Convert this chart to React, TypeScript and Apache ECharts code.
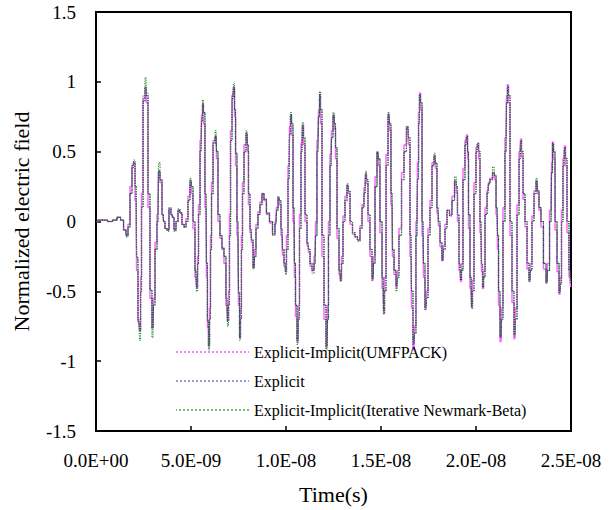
import React, { useEffect, useRef } from "react";
import * as echarts from "echarts";

// time in ns
const timeNs = [
  0, 0.21, 0.47, 0.74, 1.0, 1.21, 1.37, 1.53, 1.63, 1.74,
  1.84, 1.95, 2.0, 2.11, 2.16, 2.26, 2.32, 2.37, 2.42, 2.53,
  2.63, 2.68, 2.79, 2.89, 3.0, 3.05, 3.16, 3.26, 3.32, 3.42,
  3.53, 3.58, 3.68, 3.79, 3.89, 4.0, 4.05, 4.16, 4.26, 4.37,
  4.47, 4.58, 4.68, 4.79, 4.89, 5.0, 5.05, 5.16, 5.26, 5.32,
  5.37, 5.42, 5.53, 5.58, 5.63, 5.68, 5.79, 5.84, 5.89, 5.95,
  6.0, 6.05, 6.11, 6.21, 6.32, 6.37, 6.47, 6.58, 6.68, 6.79,
  6.89, 6.95, 7.0, 7.05, 7.11, 7.21, 7.26, 7.32, 7.37, 7.47,
  7.53, 7.58, 7.63, 7.68, 7.74, 7.84, 7.95, 8.0, 8.05, 8.16,
  8.21, 8.32, 8.37, 8.47, 8.58, 8.68, 8.79, 8.89, 9.05, 9.21,
  9.37, 9.47, 9.53, 9.63, 9.68, 9.79, 9.84, 9.95, 10.0, 10.05,
  10.16, 10.21, 10.26, 10.32, 10.42, 10.47, 10.53, 10.63, 10.68, 10.74,
  10.84, 10.89, 10.95, 11.05, 11.16, 11.21, 11.32, 11.42, 11.53, 11.58,
  11.68, 11.74, 11.79, 11.84, 11.95, 12.05, 12.16, 12.21, 12.26, 12.37,
  12.42, 12.53, 12.58, 12.63, 12.74, 12.84, 12.89, 12.95, 13.05, 13.16,
  13.26, 13.32, 13.42, 13.58, 13.68, 13.84, 13.95, 14.05, 14.16, 14.21,
  14.26, 14.37, 14.47, 14.58, 14.63, 14.74, 14.84, 14.89, 15.0, 15.11,
  15.16, 15.21, 15.32, 15.42, 15.47, 15.58, 15.63, 15.74, 15.84, 15.89,
  16.0, 16.16, 16.26, 16.42, 16.47, 16.58, 16.63, 16.74, 16.79, 16.89,
  16.95, 17.0, 17.05, 17.11, 17.21, 17.26, 17.37, 17.42, 17.53, 17.63,
  17.74, 17.84, 17.89, 18.0, 18.05, 18.16, 18.26, 18.32, 18.42, 18.53,
  18.68, 18.79, 18.95, 19.0, 19.05, 19.16, 19.21, 19.26, 19.37, 19.47,
  19.53, 19.58, 19.63, 19.74, 19.79, 19.84, 19.95, 20.05, 20.11, 20.16,
  20.26, 20.32, 20.37, 20.42, 20.53, 20.63, 20.68, 20.79, 20.95, 21.0,
  21.11, 21.16, 21.21, 21.32, 21.37, 21.47, 21.58, 21.63, 21.68, 21.74,
  21.84, 21.95, 22.05, 22.11, 22.21, 22.32, 22.37, 22.42, 22.53, 22.63,
  22.74, 22.84, 22.89, 23.0, 23.11, 23.21, 23.26, 23.37, 23.47, 23.63,
  23.74, 23.79, 23.95, 24.0, 24.05, 24.11, 24.21, 24.32, 24.42, 24.47,
  24.53, 24.63, 24.68, 24.74, 24.84, 24.95, 25.0,
];

const explicitVals = [
  0.0, 0.01, 0.01, 0.0, 0.01, 0.03, 0.01, -0.06, -0.1, -0.04,
  0.2, 0.38, 0.42, 0.25, -0.26, -0.7, -0.78, -0.5, 0.1, 0.86,
  0.96, 0.9, 0.2, -0.49, -0.76, -0.6, -0.2, 0.0, 0.36, 0.3,
  0.05, 0.0, -0.05, -0.06, 0.09, 0.05, 0.03, -0.06, 0.0, 0.08,
  0.06, -0.02, -0.04, 0.0, 0.15, 0.29, 0.25, 0.0, -0.35, -0.47,
  -0.3, 0.05, 0.5, 0.72, 0.84, 0.78, 0.2, -0.3, -0.71, -0.89,
  -0.7, -0.2, 0.2, 0.56, 0.61, 0.5, 0.05, -0.1, -0.19, -0.25,
  -0.55, -0.71, -0.6, -0.1, 0.58, 0.88, 0.96, 0.8, 0.49, 0.0,
  -0.51, -0.83, -0.7, -0.2, 0.2, 0.5, 0.63, 0.55, 0.2, -0.05,
  -0.13, -0.33, -0.25, -0.05, 0.05, 0.12, 0.2, 0.16, 0.06, 0.0,
  -0.09, -0.02, 0.08, 0.17, 0.15, -0.05, -0.2, -0.3, -0.36, -0.2,
  0.3, 0.62, 0.76, 0.7, 0.1, -0.3, -0.6, -0.85, -0.7, -0.05,
  0.5, 0.69, 0.6, 0.05, -0.15, -0.2, -0.3, -0.35, -0.3, -0.1,
  0.5, 0.75, 0.91, 0.8, -0.1, -0.6, -0.89, -0.7, -0.1, 0.4,
  0.6, 0.76, 0.7, 0.53, -0.05, -0.35, -0.42, -0.3, 0.0, 0.15,
  0.26, 0.22, 0.0, -0.08, -0.11, -0.14, -0.05, 0.1, 0.2, 0.34,
  0.3, 0.05, -0.2, -0.4, -0.3, 0.25, 0.49, 0.45, 0.0, -0.4,
  -0.64, -0.5, 0.4, 0.76, 0.7, 0.2, -0.2, -0.35, -0.46, -0.4,
  -0.1, 0.3, 0.5, 0.67, 0.6, -0.1, -0.5, -0.88, -0.8, -0.1,
  0.3, 0.7, 0.91, 0.85, 0.0, -0.3, -0.61, -0.55, -0.1, 0.1,
  0.4, 0.47, 0.42, 0.1, 0.0, -0.15, -0.28, -0.2, -0.05, 0.08,
  0.04, 0.15, 0.29, 0.25, 0.05, -0.3, -0.42, -0.35, 0.3, 0.55,
  0.61, 0.5, 0.05, -0.4, -0.6, -0.5, 0.2, 0.5, 0.56, 0.5,
  0.0, -0.3, -0.47, -0.4, 0.05, 0.2, 0.27, 0.3, 0.35, 0.33,
  0.1, -0.1, -0.5, -0.83, -0.7, 0.0, 0.5, 0.85, 0.97, 0.9,
  0.0, -0.5, -0.81, -0.7, 0.05, 0.45, 0.58, 0.5, 0.2, 0.0,
  -0.3, -0.42, -0.35, 0.0, 0.2, 0.29, 0.22, 0.1, 0.0, -0.3,
  -0.43, -0.35, 0.0, 0.35, 0.56, 0.5, 0.0, -0.3, -0.51, -0.45,
  0.0, 0.4, 0.53, 0.45, 0.0, -0.35, -0.45,
];

const umfpackVals = [
  0.0, 0.01, 0.01, 0.0, 0.01, 0.03, 0.01, -0.06, -0.1, -0.02,
  0.25, 0.4, 0.42, 0.15, -0.35, -0.72, -0.78, -0.4, 0.2, 0.88,
  0.96, 0.85, 0.1, -0.55, -0.76, -0.55, -0.15, 0.05, 0.36, 0.28,
  0.05, 0.0, -0.05, -0.06, 0.09, 0.05, 0.03, -0.06, 0.0, 0.08,
  0.06, -0.02, -0.04, 0.02, 0.18, 0.29, 0.2, -0.05, -0.4, -0.47,
  -0.25, 0.12, 0.58, 0.76, 0.84, 0.7, 0.1, -0.4, -0.76, -0.89,
  -0.62, -0.1, 0.28, 0.58, 0.61, 0.45, 0.0, -0.12, -0.19, -0.3,
  -0.6, -0.71, -0.5, 0.05, 0.65, 0.9, 0.96, 0.75, 0.4, -0.1,
  -0.6, -0.83, -0.62, -0.1, 0.28, 0.55, 0.63, 0.5, 0.12, -0.08,
  -0.15, -0.33, -0.2, -0.02, 0.07, 0.14, 0.2, 0.15, 0.05, -0.01,
  -0.09, 0.0, 0.1, 0.17, 0.12, -0.1, -0.24, -0.32, -0.36, -0.1,
  0.4, 0.68, 0.76, 0.62, 0.0, -0.4, -0.68, -0.86, -0.6, 0.05,
  0.56, 0.69, 0.55, 0.0, -0.17, -0.22, -0.32, -0.35, -0.25, 0.0,
  0.58, 0.8, 0.91, 0.7, -0.25, -0.7, -0.9, -0.6, 0.0, 0.48,
  0.65, 0.76, 0.66, 0.45, -0.12, -0.38, -0.42, -0.25, 0.04, 0.18,
  0.26, 0.2, -0.02, -0.09, -0.11, -0.13, -0.03, 0.12, 0.24, 0.34,
  0.27, 0.0, -0.25, -0.42, -0.25, 0.32, 0.5, 0.4, -0.08, -0.48,
  -0.66, -0.4, 0.48, 0.77, 0.65, 0.12, -0.25, -0.38, -0.47, -0.35,
  -0.05, 0.35, 0.55, 0.68, 0.55, -0.25, -0.62, -0.92, -0.75, 0.0,
  0.42, 0.78, 0.92, 0.8, -0.1, -0.4, -0.63, -0.5, -0.05, 0.15,
  0.42, 0.47, 0.38, 0.06, -0.03, -0.18, -0.28, -0.17, -0.02, 0.08,
  0.05, 0.18, 0.29, 0.2, 0.0, -0.35, -0.43, -0.3, 0.38, 0.58,
  0.62, 0.45, -0.05, -0.48, -0.62, -0.42, 0.28, 0.53, 0.56, 0.45,
  -0.08, -0.36, -0.48, -0.35, 0.1, 0.22, 0.28, 0.31, 0.35, 0.3,
  0.05, -0.2, -0.6, -0.86, -0.62, 0.1, 0.6, 0.9, 0.98, 0.85,
  -0.1, -0.58, -0.84, -0.62, 0.12, 0.5, 0.59, 0.46, 0.16, -0.04,
  -0.34, -0.43, -0.3, 0.04, 0.22, 0.29, 0.2, 0.08, -0.04, -0.34,
  -0.44, -0.3, 0.08, 0.42, 0.57, 0.45, -0.06, -0.36, -0.52, -0.4,
  0.08, 0.45, 0.54, 0.4, -0.08, -0.4, -0.47,
];

const newmarkVals = [
  0.0, 0.01, 0.01, 0.0, 0.01, 0.03, 0.01, -0.06, -0.11, -0.04,
  0.2, 0.4, 0.44, 0.25, -0.26, -0.72, -0.85, -0.5, 0.1, 0.9,
  1.03, 0.92, 0.2, -0.49, -0.83, -0.6, -0.2, 0.0, 0.42, 0.3,
  0.05, 0.0, -0.05, -0.07, 0.1, 0.05, 0.03, -0.07, 0.0, 0.09,
  0.06, -0.02, -0.04, 0.0, 0.15, 0.31, 0.25, 0.0, -0.35, -0.5,
  -0.3, 0.05, 0.5, 0.74, 0.87, 0.78, 0.2, -0.3, -0.72, -0.92,
  -0.7, -0.2, 0.2, 0.56, 0.65, 0.5, 0.05, -0.1, -0.2, -0.25,
  -0.55, -0.75, -0.6, -0.1, 0.58, 0.9, 0.99, 0.8, 0.49, 0.0,
  -0.51, -0.85, -0.7, -0.2, 0.2, 0.5, 0.65, 0.55, 0.2, -0.05,
  -0.13, -0.34, -0.25, -0.05, 0.05, 0.12, 0.2, 0.16, 0.06, 0.0,
  -0.1, -0.02, 0.08, 0.18, 0.15, -0.05, -0.2, -0.3, -0.38, -0.2,
  0.3, 0.62, 0.78, 0.7, 0.1, -0.3, -0.6, -0.88, -0.7, -0.05,
  0.5, 0.71, 0.6, 0.05, -0.15, -0.2, -0.3, -0.37, -0.3, -0.1,
  0.5, 0.75, 0.93, 0.8, -0.1, -0.6, -0.92, -0.7, -0.1, 0.4,
  0.6, 0.78, 0.7, 0.53, -0.05, -0.35, -0.43, -0.3, 0.0, 0.15,
  0.27, 0.22, 0.0, -0.08, -0.11, -0.13, -0.05, 0.1, 0.2, 0.36,
  0.3, 0.05, -0.2, -0.42, -0.3, 0.25, 0.5, 0.45, 0.0, -0.4,
  -0.66, -0.5, 0.4, 0.78, 0.7, 0.2, -0.2, -0.35, -0.5, -0.4,
  -0.1, 0.3, 0.5, 0.68, 0.6, -0.1, -0.5, -0.86, -0.8, -0.1,
  0.3, 0.7, 0.9, 0.85, 0.0, -0.3, -0.63, -0.55, -0.1, 0.1,
  0.4, 0.49, 0.42, 0.1, 0.0, -0.15, -0.26, -0.2, -0.05, 0.08,
  0.06, 0.15, 0.32, 0.25, 0.05, -0.3, -0.4, -0.35, 0.3, 0.55,
  0.6, 0.5, 0.05, -0.4, -0.62, -0.5, 0.2, 0.5, 0.56, 0.5,
  0.0, -0.3, -0.46, -0.4, 0.05, 0.2, 0.27, 0.3, 0.39, 0.33,
  0.1, -0.1, -0.5, -0.82, -0.7, 0.0, 0.5, 0.85, 0.95, 0.9,
  0.0, -0.5, -0.82, -0.7, 0.05, 0.45, 0.57, 0.5, 0.2, 0.0,
  -0.3, -0.43, -0.35, 0.0, 0.2, 0.31, 0.22, 0.1, 0.0, -0.3,
  -0.44, -0.35, 0.0, 0.35, 0.55, 0.5, 0.0, -0.3, -0.49, -0.45,
  0.0, 0.4, 0.52, 0.45, 0.0, -0.35, -0.45,
];

const seriesNames = [
  "Explicit-Implicit(UMFPACK)",
  "Explicit",
  "Explicit-Implicit(Iterative Newmark-Beta)",
];
const yTicks = { min: -1.5, max: 1.5, interval: 0.5 };
const xTicks = { min: 0, max: 25, interval: 5 };

const FONT = "Liberation Serif";

function fmtTime(v: number): string {
  const s = (v * 1e-9).toExponential(1);
  const [m, ex] = s.split("e");
  const n = parseInt(ex, 10);
  return m + "E" + (n < 0 ? "-" : "+") + String(Math.abs(n)).padStart(2, "0");
}

function pairs(vals: number[]) {
  return timeNs.map((t, i) => [t, vals[i]]);
}

export default function App() {
  const ref = useRef<HTMLDivElement>(null);
  useEffect(() => {
    if (!ref.current) return;
    const chart = echarts.init(ref.current, undefined, { renderer: "svg" });
    const lineColors = ["#ff66ff", "#26267e", "#1a8a1a"];
    const legendColors = ["#ff80ff", "#9a9ad8", "#78c078"];
    chart.setOption({
      animation: false,
      backgroundColor: "#ffffff",
      textStyle: { fontFamily: FONT },
      grid: {
        left: 96,
        right: 45,
        top: 12,
        bottom: 78,
        show: true,
        borderColor: "#000",
        borderWidth: 2,
        backgroundColor: "transparent",
      },
      legend: {
        orient: "vertical",
        left: 170,
        top: 339,
        itemWidth: 73,
        itemHeight: 14,
        itemGap: 13,
        align: "left",
        textStyle: { fontFamily: FONT, fontSize: 16, color: "#000" },
        data: seriesNames.map((n, i) => ({
          name: n,
          lineStyle: { color: legendColors[i], width: 2, type: "dotted" },
          itemStyle: { color: legendColors[i], opacity: 0 },
        })),
      },
      xAxis: {
        type: "value",
        min: xTicks.min,
        max: xTicks.max,
        interval: xTicks.interval,
        name: "Time(s)",
        nameLocation: "middle",
        nameGap: 52,
        nameTextStyle: { fontFamily: FONT, fontSize: 22, color: "#000" },
        axisLine: { show: true, onZero: false, lineStyle: { color: "#000", width: 2 } },
        axisTick: { show: true, inside: true, length: 5, lineStyle: { color: "#000", width: 1.5 } },
        axisLabel: {
          formatter: fmtTime,
          margin: 20,
          fontFamily: FONT,
          fontSize: 19,
          color: "#000",
        },
        splitLine: { show: false },
      },
      yAxis: {
        type: "value",
        min: yTicks.min,
        max: yTicks.max,
        interval: yTicks.interval,
        name: "Normalized electric field",
        nameLocation: "middle",
        nameGap: 64,
        nameTextStyle: { fontFamily: FONT, fontSize: 22, color: "#000" },
        axisLine: { show: true, onZero: false, lineStyle: { color: "#000", width: 2 } },
        axisTick: { show: true, inside: true, length: 5, lineStyle: { color: "#000", width: 1.5 } },
        axisLabel: { margin: 20, fontFamily: FONT, fontSize: 19, color: "#000" },
        splitLine: { show: false },
      },
      series: [
        {
          name: seriesNames[0],
          type: "line",
          step: "middle",
          symbol: "none",
          data: pairs(umfpackVals),
          lineStyle: { color: lineColors[0], width: 1.5 },
          itemStyle: { color: lineColors[0] },
          z: 2,
        },
        {
          name: seriesNames[1],
          type: "line",
          step: "middle",
          symbol: "none",
          data: pairs(explicitVals),
          lineStyle: { color: lineColors[1], width: 1.2, type: [1.2, 1.2] },
          itemStyle: { color: lineColors[1] },
          z: 3,
        },
        {
          name: seriesNames[2],
          type: "line",
          step: "middle",
          symbol: "none",
          data: pairs(newmarkVals),
          lineStyle: { color: lineColors[2], width: 1.1, type: [1.2, 1.2], dashOffset: 1.2 },
          itemStyle: { color: lineColors[2] },
          z: 4,
        },
      ],
    });
    return () => chart.dispose();
  }, []);
  return (
    <div
      ref={ref}
      style={{ position: "fixed", left: 0, top: 0, width: 616, height: 510, background: "#fff" }}
    />
  );
}
